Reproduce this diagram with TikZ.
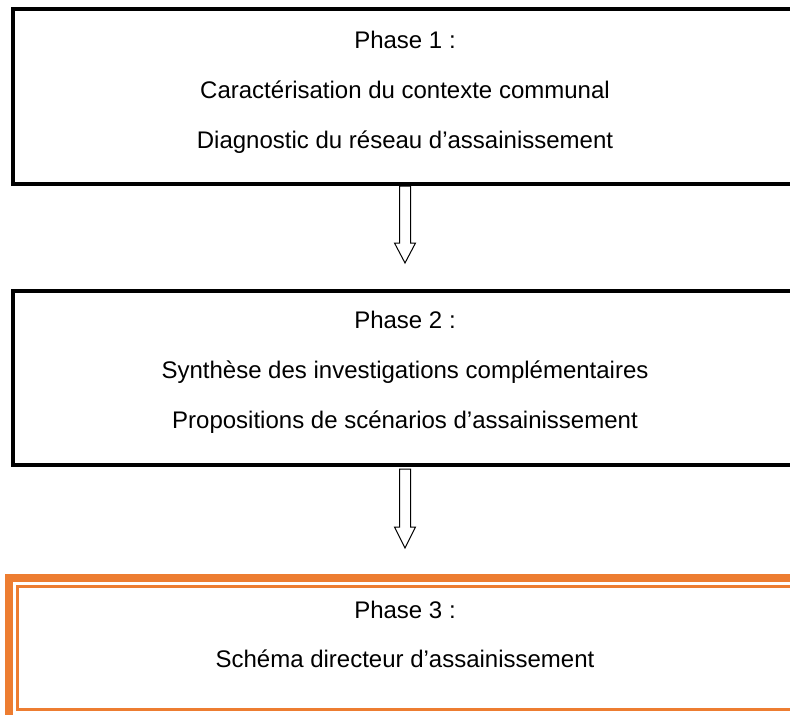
\documentclass[tikz,border=0pt]{standalone}
\usepackage{fontspec}
\setmainfont{Liberation Sans}
\definecolor{phaseorange}{RGB}{237,125,49}
\tikzset{
phasebox/.style={draw=black, line width=4pt, minimum width=785pt},
phaseline/.style={anchor=base, font=\fontsize{24pt}{28pt}\selectfont},
hollow/.style={draw=black, line width=1pt, fill=white}
}
\begin{document}
\begin{tikzpicture}[x=1pt,y=-1pt]
\useasboundingbox (0,0) rectangle (790,715);
% boxes
\node[phasebox, minimum height=175.5pt] (ph1) at (405,96.25) {};
\node[phasebox, minimum height=174pt] (ph2) at (405,377.5) {};
\node[draw=phaseorange, line width=3pt, minimum width=775pt, minimum height=123pt] (ph3) at (405,648) {};
\draw[phaseorange, line width=8pt] ([xshift=-7.5pt,yshift=7.5pt]ph3.north west) rectangle ([xshift=7.5pt,yshift=-7.5pt]ph3.south east);
% texts
\node[phaseline] (ph1a) at (405,48) {Phase 1 :};
\node[phaseline] (ph1b) at (405,98) {Caractérisation du contexte communal};
\node[phaseline] (ph1c) at (405,148) {Diagnostic du réseau d’assainissement};
\node[phaseline] (ph2a) at (405,328) {Phase 2 :};
\node[phaseline] (ph2b) at (405,378) {Synthèse des investigations complémentaires};
\node[phaseline] (ph2c) at (405,428) {Propositions de scénarios d’assainissement};
\node[phaseline] (ph3a) at (405,618) {Phase 3 :};
\node[phaseline] (ph3b) at (405,667) {Schéma directeur d’assainissement};
% arrows
\draw[hollow] ([xshift=-5.5pt]ph1.south) --++(0,57) --++(-5,0) --++(10.5,20)
--++(10.5,-20) --++(-5,0) --++(0,-57) -- cycle;
\draw[hollow] ([xshift=-5.5pt,yshift=-2.5pt]ph2.south) --++(0,58) --++(-5,0) --++(10.5,21)
--++(10.5,-21) --++(-5,0) --++(0,-58) -- cycle;
\end{tikzpicture}
\end{document}
